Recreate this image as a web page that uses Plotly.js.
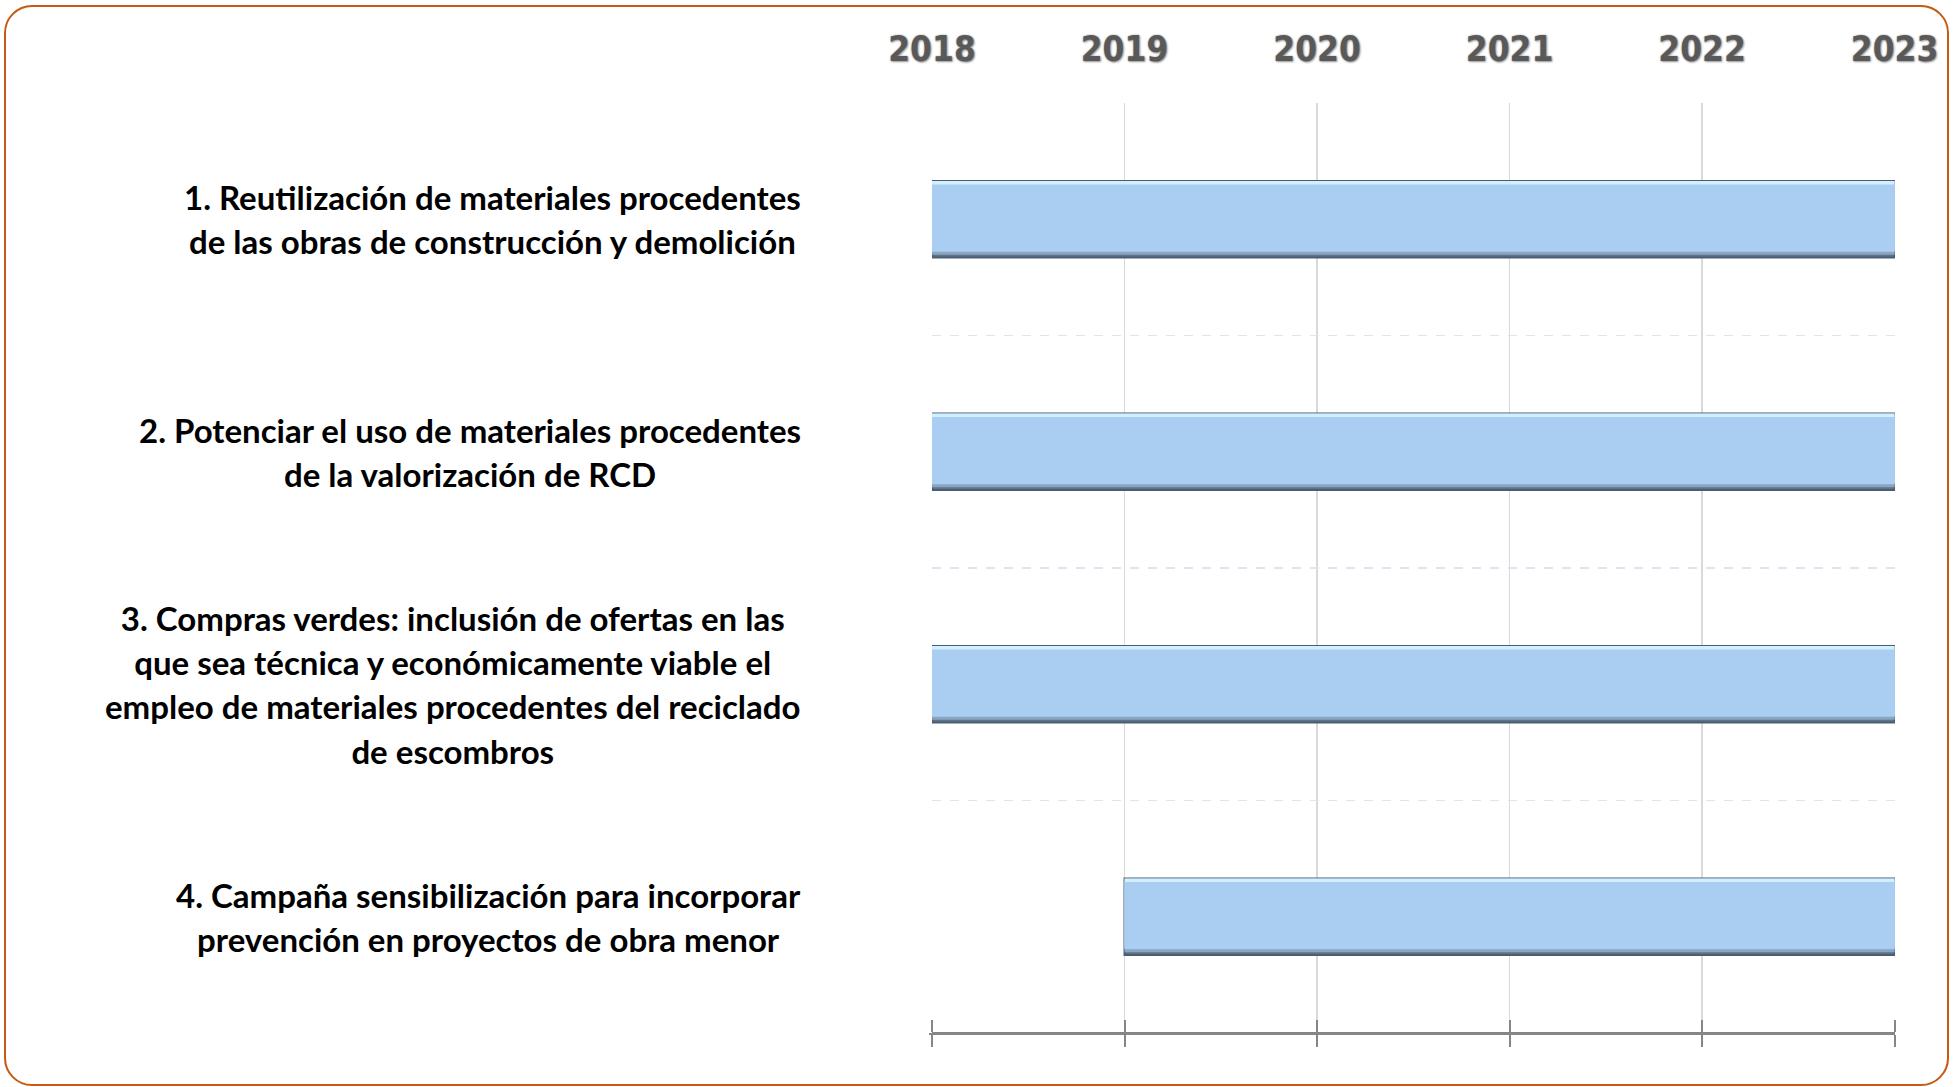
<!DOCTYPE html>
<html><head><meta charset="utf-8">
<script src="https://cdn.plot.ly/plotly-3.0.1.min.js"></script>
<style>
html,body{margin:0;padding:0;background:#fff;}
#wrap{position:relative;width:1953px;height:1087px;overflow:hidden;}
#chart{position:absolute;left:0;top:0;width:1953px;height:1087px;}
#frame{position:absolute;left:4px;top:5px;width:1945px;height:1081px;box-sizing:border-box;border:2.5px solid #C55A11;border-radius:28px;pointer-events:none;}
</style></head><body>
<div id="wrap"><div id="chart"></div><div id="frame"></div></div>
<script>
// ---- data ----
const categories = [
  "1. Reutilización de materiales procedentes<br>de las obras de construcción y demolición",
  "2. Potenciar el uso de materiales procedentes<br>de la valorización de RCD",
  "3. Compras verdes: inclusión de ofertas en las<br>que sea técnica y económicamente viable el<br>empleo de materiales procedentes del reciclado<br>de escombros",
  "4. Campaña sensibilización para incorporar<br>prevención en proyectos de obra menor"
];
const startYear = [2018, 2018, 2018, 2019];
const endYear   = [2023, 2023, 2023, 2023];
const yearTicks = [2018, 2019, 2020, 2021, 2022, 2023];

// ---- derived ----
const duration = endYear.map((e, i) => e - startYear[i]);
const xRange = [yearTicks[0], yearTicks[yearTicks.length - 1] + 0.002];

function barTrace(color, offset, width, line) {
  return {
    type: 'bar', orientation: 'h',
    y: categories, x: duration, base: startYear,
    offset: offset, width: width,
    marker: {color: color, line: line || {width: 0}},
    hoverinfo: 'skip', showlegend: false, xaxis: 'x', yaxis: 'y'
  };
}
// layered bars give the bevelled look
const traces = [
  barTrace('#5E7388', -0.165, 0.33, {color: '#4A5E72', width: 2}),
  barTrace('#8AA5C0', -0.165, 0.318),
  barTrace('#D2EFFF', -0.165, 0.30),
  barTrace('#A9CEF2', -0.150, 0.29)
];
// invisible helpers so the bottom axis (cross ticks) is drawn
['x2', 'x3'].forEach(ax => traces.push({
  type: 'scatter', mode: 'markers', x: [yearTicks[0]], y: [categories[0]],
  marker: {opacity: 0}, hoverinfo: 'skip', showlegend: false, xaxis: ax, yaxis: 'y'
}));

const labelFont = 'Lato, "Open Sans", sans-serif';
const annotations = categories.map(c => ({
  xref: 'paper', yref: 'y', x: -0.134, y: c,
  xanchor: 'right', yanchor: 'middle', align: 'center', showarrow: false,
  text: c.split('<br>').map(l => '<span style="font-size:33px">' + l + '</span>').join('<br>'),
  font: {family: labelFont, size: 34, color: '#000000', weight: 'bold'}
}));

const bottomAxis = (extra) => Object.assign({
  range: xRange,
  overlaying: 'x',
  tickmode: 'array', tickvals: yearTicks, showticklabels: false,
  ticks: 'outside', ticklen: 12, tickwidth: 2, tickcolor: '#868686',
  showline: true, linecolor: '#868686', linewidth: 2,
  showgrid: false, zeroline: false, fixedrange: true
}, extra);

const layout = {
  width: 1953, height: 1087,
  margin: {l: 932, r: 58, t: 103, b: 54, pad: 0},
  paper_bgcolor: '#ffffff', plot_bgcolor: '#ffffff',
  barmode: 'overlay',
  xaxis: {
    range: xRange,
    side: 'top', tickmode: 'array', tickvals: yearTicks,
    ticktext: yearTicks.map(String),
    ticks: '', ticklabelstandoff: 34,
    tickfont: {family: '"DejaVu Sans Condensed", "Liberation Sans Narrow", "Liberation Sans", sans-serif',
               size: 35, color: '#595959', weight: 'bold',
               shadow: '0px 0px 2px #a8a8a8, 1px 1px 2px #9a9a9a'},
    showgrid: true, gridcolor: '#D9D9D9', gridwidth: 1.5,
    showline: false, zeroline: false, fixedrange: true
  },
  // bottom axis: downward ticks
  xaxis2: bottomAxis({anchor: 'y', side: 'bottom'}),
  // same line, upward ticks -> crossing tick marks
  xaxis3: bottomAxis({anchor: 'free', position: 0, side: 'top'}),
  yaxis: {
    type: 'category', categoryorder: 'array', categoryarray: categories,
    range: [categories.length - 0.5, -0.5],
    tickson: 'boundaries', ticks: '', showticklabels: false,
    showgrid: true, gridcolor: '#DCE6F2', gridwidth: 1.5, griddash: 'dash',
    showline: true, linecolor: '#ffffff', linewidth: 3, layer: 'below traces',
    zeroline: false, fixedrange: true
  },
  annotations: annotations
};

Plotly.newPlot('chart', traces, layout, {displayModeBar: false, staticPlot: true});
</script>
</body></html>
